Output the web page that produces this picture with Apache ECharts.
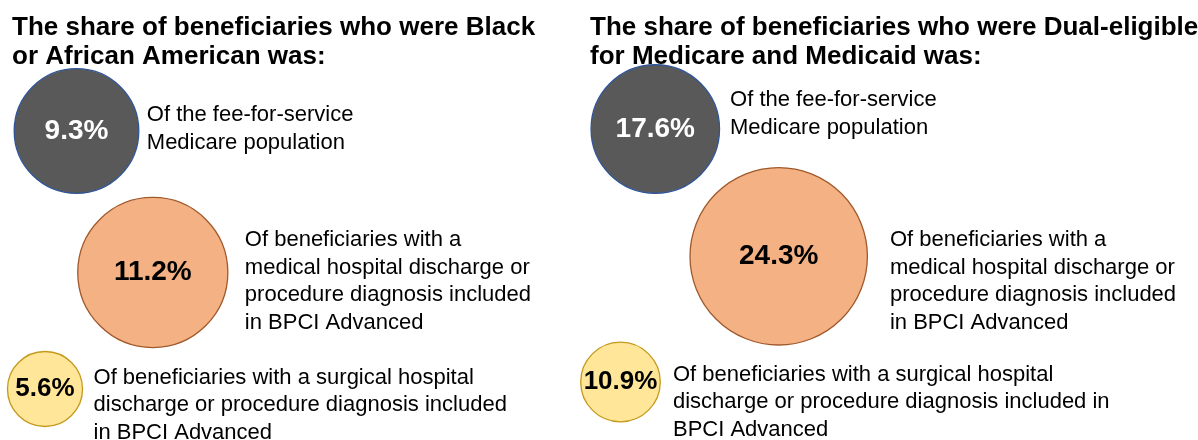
<!DOCTYPE html>
<html>
<head>
<meta charset="utf-8">
<script src="https://cdn.jsdelivr.net/npm/echarts@6/dist/echarts.min.js"></script>
<style>
  html, body { margin: 0; padding: 0; background: #fff; }
  #chart { width: 1198px; height: 440px; }
</style>
</head>
<body>
<div id="chart"></div>
<script>
// Shares (%) of beneficiaries in each group
const groups = ['Fee-for-service Medicare', 'Medical episodes', 'Surgical episodes'];
const blackShare = [9.3, 11.2, 5.6];
const dualShare = [17.6, 24.3, 10.9];

const panelTitles = [
  'The share of beneficiaries who were Black\nor African American was:',
  'The share of beneficiaries who were Dual\u2011eligible\nfor Medicare and Medicaid was:'
];
const notesBlack = [
  'Of the fee-for-service\nMedicare population',
  'Of beneficiaries with a\nmedical hospital discharge or\nprocedure diagnosis included\nin BPCI Advanced',
  'Of beneficiaries with a surgical hospital\ndischarge or procedure diagnosis included\nin BPCI Advanced'
];
const notesDual = [
  'Of the fee-for-service\nMedicare population',
  'Of beneficiaries with a\nmedical hospital discharge or\nprocedure diagnosis included\nin BPCI Advanced',
  'Of beneficiaries with a surgical hospital\ndischarge or procedure diagnosis included in\nBPCI Advanced'
];

// Layout: where each bubble sits, and bubble diameter per percentage point
const panels = [
  {
    titleX: 12, values: blackShare, notes: notesBlack, pxPerPoint: 13.4,
    centers: [[76.5, 131], [152.8, 272.5], [45, 389]],
    noteGap: [8, 17, 11], noteDy: [-2, 9, 16]
  },
  {
    titleX: 590, values: dualShare, notes: notesDual, pxPerPoint: 7.3,
    centers: [[655.3, 129], [778.7, 256.3], [620.5, 382]],
    noteGap: [10.5, 22.5, 12.7], noteDy: [-15, 25, 20]
  }
];

const fills = ['#595959', '#F4B183', '#FFE699'];
const borders = ['#2F5597', '#A0592B', '#C49A1C'];
const valueColors = ['#ffffff', '#000000', '#000000'];
const valueSizes = [28, 28, 26];
const FONT = 'Arial, "Liberation Sans", Helvetica, sans-serif';

const chart = echarts.init(document.getElementById('chart'), null, { renderer: 'canvas' });

const series = [];
panels.forEach((p, pi) => {
  const bubbleData = p.values.map((v, i) => ({
    name: groups[i],
    value: [p.centers[i][0], p.centers[i][1], v],
    symbolSize: v * p.pxPerPoint,
    itemStyle: { color: fills[i], borderColor: borders[i], borderWidth: 1.3, opacity: 1 },
    label: { color: valueColors[i], fontSize: valueSizes[i] }
  }));
  series.push({
    type: 'scatter',
    name: 'bubbles-' + pi,
    data: bubbleData,
    symbol: 'circle',
    silent: true,
    z: 2,
    label: {
      show: true,
      position: 'inside',
      fontFamily: FONT,
      fontWeight: 'bold',
      formatter: d => d.value[2].toFixed(1) + '%'
    }
  });
  // Descriptions sit to the right of each bubble
  const noteData = p.values.map((v, i) => ({
    name: groups[i],
    value: [p.centers[i][0], p.centers[i][1], v],
    symbolSize: v * p.pxPerPoint,
    label: { distance: p.noteGap[i], offset: [0, p.noteDy[i]], formatter: p.notes[i] }
  }));
  series.push({
    type: 'scatter',
    name: 'notes-' + pi,
    data: noteData,
    symbol: 'circle',
    silent: true,
    z: 1,
    itemStyle: { color: 'rgba(0,0,0,0)', borderWidth: 0, opacity: 1 },
    label: {
      show: true,
      position: 'right',
      align: 'left',
      fontFamily: FONT,
      fontSize: 22,
      lineHeight: 27.5,
      color: '#000000'
    }
  });
});

chart.setOption({
  animation: false,
  backgroundColor: '#ffffff',
  title: panels.map((p, pi) => ({
    text: panelTitles[pi],
    left: p.titleX,
    top: 13,
    padding: 0,
    textStyle: {
      fontFamily: FONT,
      fontWeight: 'bold',
      fontSize: 26,
      lineHeight: 29.5,
      color: '#000000'
    }
  })),
  grid: { left: 0, right: 0, top: 0, bottom: 0 },
  xAxis: { type: 'value', min: 0, max: 1198, show: false },
  yAxis: { type: 'value', min: 0, max: 440, inverse: true, show: false },
  series: series
});
</script>
</body>
</html>
